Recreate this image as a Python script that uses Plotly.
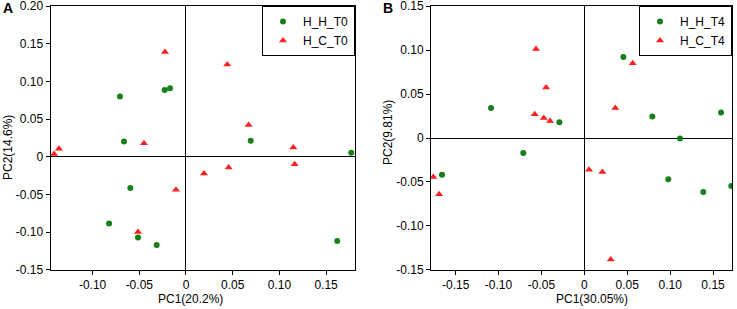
import plotly.graph_objects as go

# ---- Panel A data (PC1 20.2%, PC2 14.6%) ----
a_hh_x = [-0.0707, -0.0664, -0.0228, -0.0171, 0.0693, 0.177, -0.0596, -0.0824, -0.0514, -0.0314, 0.162]
a_hh_y = [0.080, 0.0203, 0.0888, 0.091, 0.0212, 0.0053, -0.0415, -0.0884, -0.107, -0.117, -0.1118]
a_hc_x = [-0.1413, -0.136, -0.045, -0.0225, 0.0442, 0.0671, 0.1149, -0.0107, 0.0193, 0.0457, 0.1164, -0.0514]
a_hc_y = [0.0036, 0.0106, 0.018, 0.139, 0.1224, 0.0424, 0.0123, -0.0438, -0.0221, -0.0142, -0.0097, -0.0999]

# ---- Panel B data (PC1 30.05%, PC2 9.81%) ----
b_hh_x = [-0.1087, -0.0291, -0.0711, 0.0455, 0.0793, 0.1115, 0.1593, -0.1659, 0.0979, 0.1387, 0.1713]
b_hh_y = [0.0342, 0.0179, -0.0171, 0.0923, 0.0244, -0.0007, 0.0289, -0.0417, -0.047, -0.0615, -0.0547]
b_hc_x = [-0.0563, -0.0446, -0.0578, -0.0473, -0.040, 0.0564, 0.0361, -0.176, -0.1693, 0.0055, 0.021, 0.0308]
b_hc_y = [0.1014, 0.0574, 0.027, 0.0228, 0.0194, 0.0851, 0.0342, -0.0444, -0.0641, -0.036, -0.0387, -0.1382]

series_names_a = ["H_H_T0", "H_C_T0"]
series_names_b = ["H_H_T4", "H_C_T4"]

a_x_ticks = [-0.10, -0.05, 0, 0.05, 0.10, 0.15]
a_x_text = ["-0.10", "-0.05", "0", "0.05", "0.10", "0.15"]
a_y_ticks = [-0.15, -0.10, -0.05, 0, 0.05, 0.10, 0.15, 0.20]
a_y_text = ["-0.15", "-0.10", "-0.05", "0", "0.05", "0.10", "0.15", "0.20"]
b_x_ticks = [-0.15, -0.10, -0.05, 0, 0.05, 0.10, 0.15]
b_x_text = ["-0.15", "-0.10", "-0.05", "0", "0.05", "0.10", "0.15"]
b_y_ticks = [-0.15, -0.10, -0.05, 0, 0.05, 0.10, 0.15]
b_y_text = ["-0.15", "-0.10", "-0.05", "0", "0.05", "0.10", "0.15"]

a_xtitle, a_ytitle = "PC1(20.2%)", "PC2(14.6%)"
b_xtitle, b_ytitle = "PC1(30.05%)", "PC2(9.81%)"

GREEN = "#17801a"
RED = "#ff1f1f"
FONT = "Liberation Sans, Arial, sans-serif"

W, H = 737, 309
def px(x): return x / W
def py(y): return 1 - y / H

dom_a = [px(50.5), px(355)]
dom_b = [px(431), px(732)]
dom_y = [py(270), py(6)]

fig = go.Figure()
circ = dict(symbol="circle", size=6, color=GREEN)
tri = dict(symbol="triangle-up", size=7, color=RED)

fig.add_trace(go.Scatter(x=a_hh_x, y=a_hh_y, mode="markers", marker=circ, name=series_names_a[0],
                         xaxis="x", yaxis="y", legend="legend"))
fig.add_trace(go.Scatter(x=a_hc_x, y=a_hc_y, mode="markers", marker=tri, name=series_names_a[1],
                         xaxis="x", yaxis="y", legend="legend"))
fig.add_trace(go.Scatter(x=b_hh_x, y=b_hh_y, mode="markers", marker=circ, name=series_names_b[0],
                         xaxis="x2", yaxis="y2", legend="legend2"))
fig.add_trace(go.Scatter(x=b_hc_x, y=b_hc_y, mode="markers", marker=tri, name=series_names_b[1],
                         xaxis="x2", yaxis="y2", legend="legend2"))

axis_common = dict(showline=True, linecolor="black", linewidth=1, mirror=True,
                   showgrid=False, zeroline=True, zerolinecolor="black", zerolinewidth=1,
                   ticks="outside", ticklen=4, tickcolor="black", tickwidth=1,
                   tickfont=dict(family=FONT, size=12, color="black"), automargin=False,
                   ticklabeloverflow="allow", fixedrange=True)

legend_common = dict(bordercolor="black", borderwidth=1, bgcolor="white",
                     font=dict(family=FONT, size=12, color="black"),
                     yanchor="top", xanchor="right", itemwidth=30, tracegroupgap=0)

fig.update_layout(
    width=W, height=H,
    margin=dict(l=0, r=0, t=0, b=0),
    paper_bgcolor="white", plot_bgcolor="white",
    font=dict(family=FONT, size=12, color="black"),
    xaxis=dict(domain=dom_a, range=[-0.1451, 0.181], tickvals=a_x_ticks, ticktext=a_x_text, anchor="y", **axis_common),
    yaxis=dict(domain=dom_y, range=[-0.1502, 0.2002], tickvals=a_y_ticks, ticktext=a_y_text, anchor="x", **axis_common),
    xaxis2=dict(domain=dom_b, range=[-0.1787, 0.1721], tickvals=b_x_ticks, ticktext=b_x_text, anchor="y2", **axis_common),
    yaxis2=dict(domain=dom_y, range=[-0.1502, 0.1502], tickvals=b_y_ticks, ticktext=b_y_text, anchor="x2", **axis_common),
    legend=dict(x=dom_a[1], y=dom_y[1], **legend_common),
    legend2=dict(x=dom_b[1], y=dom_y[1], **legend_common),
    showlegend=True,
)

ann = [
    dict(text="<b>A</b>", x=px(8), y=py(8), xanchor="center", yanchor="middle", font=dict(size=14)),
    dict(text="<b>B</b>", x=px(388), y=py(8), xanchor="center", yanchor="middle", font=dict(size=14)),
    dict(text=a_xtitle, x=px(190), y=py(299), xanchor="center", yanchor="middle", font=dict(size=12)),
    dict(text=b_xtitle, x=px(592), y=py(299), xanchor="center", yanchor="middle", font=dict(size=12)),
    dict(text=a_ytitle, x=px(8), y=py(148), xanchor="center", yanchor="middle", textangle=-90, font=dict(size=12)),
    dict(text=b_ytitle, x=px(388), y=py(133), xanchor="center", yanchor="middle", textangle=-90, font=dict(size=12)),
]
for a in ann:
    a.update(xref="paper", yref="paper", showarrow=False)
fig.update_layout(annotations=ann)

fig.write_html("out.html", config={"displayModeBar": False},
               post_script="document.body.style.margin='0';document.body.style.overflow='hidden';")
